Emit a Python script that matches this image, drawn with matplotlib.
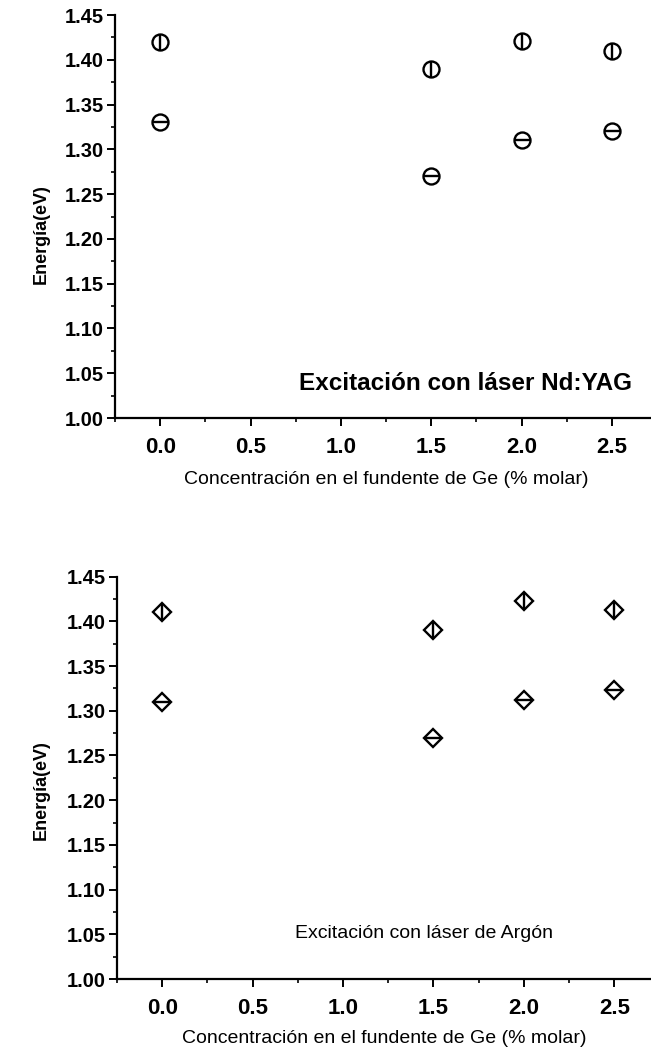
import matplotlib
matplotlib.use('Agg')
import matplotlib.pyplot as plt
from matplotlib.ticker import MultipleLocator

plt.rcParams['font.family'] = ['Liberation Sans', 'DejaVu Sans']

# concentration of Ge in the melt (% molar)
conc = [0.0, 1.5, 2.0, 2.5]

# Nd:YAG excitation
yag_high = [1.42, 1.39, 1.421, 1.41]
yag_low = [1.33, 1.27, 1.31, 1.32]

# Argon excitation
ar_high = [1.41, 1.39, 1.423, 1.413]
ar_low = [1.31, 1.27, 1.312, 1.323]

xlabel = 'Concentración en el fundente de Ge (% molar)'
ylabel = 'Energía(eV)'
xticks = [0.0, 0.5, 1.0, 1.5, 2.0, 2.5]
yticks = [1.00, 1.05, 1.10, 1.15, 1.20, 1.25, 1.30, 1.35, 1.40, 1.45]


def style_axes(ax, x_right):
    ax.set_xlim(-0.25, x_right)
    ax.set_ylim(1.0, 1.45)
    ax.spines['top'].set_visible(False)
    ax.spines['right'].set_visible(False)
    for side in ['left', 'bottom']:
        ax.spines[side].set_linewidth(1.6)
    ax.xaxis.set_minor_locator(MultipleLocator(0.25))
    ax.yaxis.set_minor_locator(MultipleLocator(0.025))
    ax.tick_params(which='major', length=6, width=1.4, direction='out')
    ax.tick_params(which='minor', length=3, width=1.2, direction='out')
    ax.tick_params(axis='x', which='major', pad=8)
    ax.tick_params(axis='y', which='major', pad=2)
    ax.set_xticks(xticks)
    ax.set_xticklabels(['%.1f' % v for v in xticks],
                       fontweight='bold', fontsize=16)
    ax.set_yticks(yticks)
    ax.set_yticklabels(['%.2f' % v for v in yticks],
                       fontweight='bold', fontsize=14.5)
    ax.set_ylabel(ylabel, fontsize=13, fontweight='bold')
    ax.set_xlabel(xlabel, fontsize=14, va='top')


fig = plt.figure(figsize=(6.51, 10.5), dpi=100)
mk = dict(color='black', linestyle='none', markeredgewidth=1.7)

# top panel: Nd:YAG
ax1 = fig.add_axes([0.1767, 0.6019, 0.8233, 0.3838])
style_axes(ax1, 2.716)
ax1.plot(conc, yag_high, marker='o', ms=11.5, fillstyle='none', **mk)
ax1.plot(conc, yag_high, marker='|', ms=11.5, **mk)
ax1.plot(conc, yag_low, marker='o', ms=11.5, fillstyle='none', **mk)
ax1.plot(conc, yag_low, marker='_', ms=11.5, **mk)
ax1.text(1.69, 1.031, 'Excitación con láser Nd:YAG', ha='center',
         va='baseline', fontsize=17.5, fontweight='bold')
ax1.yaxis.set_label_coords(-0.122, 0.457)
ax1.xaxis.set_label_coords(0.506, -0.132)

# bottom panel: Argon
ax2 = fig.add_axes([0.1797, 0.0676, 0.8203, 0.3832])
style_axes(ax2, 2.703)
ax2.plot(conc, ar_high, marker='D', ms=9.2, fillstyle='none', **mk)
ax2.plot(conc, ar_high, marker='|', ms=13, **mk)
ax2.plot(conc, ar_low, marker='D', ms=9.2, fillstyle='none', **mk)
ax2.plot(conc, ar_low, marker='_', ms=13, **mk)
ax2.text(1.445, 1.046, 'Excitación con láser de Argón', ha='center',
         va='baseline', fontsize=14)
ax2.yaxis.set_label_coords(-0.126, 0.47)
ax2.xaxis.set_label_coords(0.5, -0.127)

fig.savefig('out.png', dpi=100)
